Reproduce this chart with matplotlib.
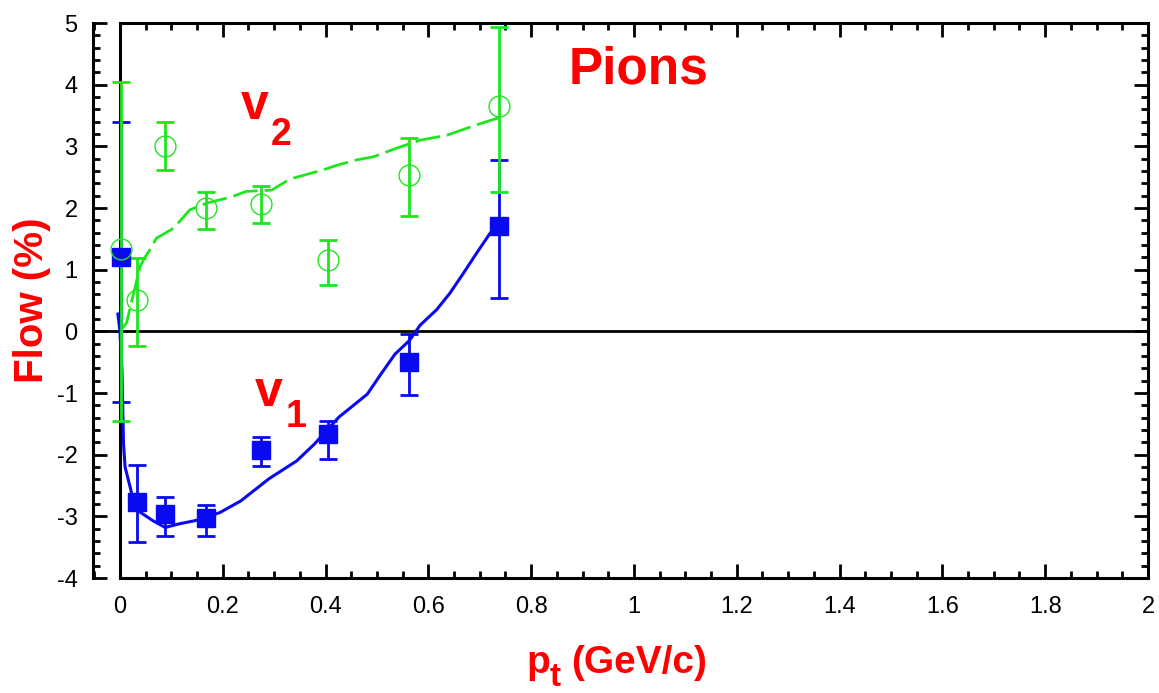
import matplotlib
matplotlib.use("Agg")
import matplotlib.pyplot as plt
from matplotlib.ticker import MultipleLocator

plt.rcParams['font.family'] = ['Liberation Sans', 'DejaVu Sans']
plt.rcParams['axes.unicode_minus'] = False

# measured points (pt in GeV/c, flow in %)
pt = [0.003, 0.033, 0.088, 0.167, 0.274, 0.405, 0.562, 0.738]

v2 = [1.33, 0.51, 3.01, 2.00, 2.06, 1.15, 2.53, 3.66]
v2_lo = [2.78, 0.75, 0.40, 0.34, 0.31, 0.40, 0.66, 1.40]
v2_hi = [2.71, 0.68, 0.38, 0.26, 0.29, 0.33, 0.60, 1.28]

v1 = [1.20, -2.76, -2.96, -3.03, -1.92, -1.66, -0.50, 1.71]
v1_lo = [2.34, 0.65, 0.36, 0.29, 0.27, 0.41, 0.53, 1.17]
v1_hi = [2.19, 0.60, 0.28, 0.22, 0.20, 0.20, 0.46, 1.07]

# model curves
v2_curve_x = [0.0, 0.013, 0.039, 0.047, 0.058, 0.071, 0.104, 0.136, 0.169, 0.217, 0.246,
              0.295, 0.331, 0.396, 0.421, 0.460, 0.493, 0.538, 0.584, 0.636, 0.694, 0.736]
v2_curve_y = [0.0, 0.14, 1.05, 1.18, 1.32, 1.51, 1.67, 1.97, 2.08, 2.18, 2.27,
              2.29, 2.47, 2.62, 2.69, 2.78, 2.83, 2.97, 3.10, 3.18, 3.35, 3.46]

v1_curve_x = [-0.004, 0.0, 0.004, 0.007, 0.010, 0.020, 0.030, 0.064, 0.088, 0.116, 0.146,
              0.194, 0.235, 0.290, 0.344, 0.378, 0.426, 0.481, 0.508, 0.535, 0.563, 0.584,
              0.616, 0.642, 0.668, 0.694, 0.720, 0.736]
v1_curve_y = [0.28, 0.0, -0.64, -1.83, -2.20, -2.53, -2.88, -3.07, -3.18, -3.12, -3.07,
              -2.94, -2.75, -2.39, -2.10, -1.83, -1.39, -1.02, -0.69, -0.37, -0.15, 0.10,
              0.35, 0.62, 0.94, 1.27, 1.59, 1.75]

xticks = [0, 0.2, 0.4, 0.6, 0.8, 1, 1.2, 1.4, 1.6, 1.8, 2]
xticklabels = ['0', '0.2', '0.4', '0.6', '0.8', '1', '1.2', '1.4', '1.6', '1.8', '2']

blue = '#0a0af0'
green = '#1ee61e'
red = '#ff0000'

fig = plt.figure(figsize=(11.59, 6.93), dpi=100)
ax = fig.add_axes([0.0802, 0.1659, 0.9103, 0.8009])

ax.set_xlim(-0.0525, 2.0)
ax.set_ylim(-4, 5)

ax.axhline(0, color='black', lw=2.0, zorder=1)
ax.axvline(0, color='black', lw=2.2, zorder=1)

ax.plot(v2_curve_x, v2_curve_y, color=green, lw=2.0, dashes=(9, 2.5), zorder=2)
ax.plot(v1_curve_x, v1_curve_y, color=blue, lw=2.2, zorder=2)

ax.errorbar(pt, v1, yerr=[v1_lo, v1_hi], fmt='none', ecolor=blue, elinewidth=2.0,
            capsize=6.5, capthick=2.0, zorder=3)
ax.errorbar(pt, v2, yerr=[v2_lo, v2_hi], fmt='none', ecolor=green, elinewidth=2.0,
            capsize=6.5, capthick=2.0, zorder=3)
ax.plot(pt, v1, 's', color=blue, ms=13, mec=blue, zorder=4)
ax.plot(pt, v2, 'o', mfc='none', mec=green, ms=15, mew=1.0, zorder=5)

# labels inside the plot
ax.text(0.872, 4.02, 'Pions', color=red, fontsize=37, fontweight='bold', ha='left', va='baseline')
ax.text(0.236, 3.44, 'v', color=red, fontsize=36, fontweight='bold', ha='left', va='baseline')
ax.text(0.293, 3.02, '2', color=red, fontsize=27, fontweight='bold', ha='left', va='baseline')
ax.text(0.263, -1.21, 'v', color=red, fontsize=36, fontweight='bold', ha='left', va='baseline')
ax.text(0.322, -1.55, '1', color=red, fontsize=27, fontweight='bold', ha='left', va='baseline')

# x axis title: p with a large subscript t
fig.text(526 / 1159, 1 - 673 / 693, 'p', color=red, fontsize=28, fontweight='bold', va='baseline')
fig.text(550 / 1159, 1 - 686 / 693, 't', color=red, fontsize=24, fontweight='bold', va='baseline')
fig.text(571 / 1159, 1 - 673 / 693, '(GeV/c)', color=red, fontsize=28, fontweight='bold', va='baseline')
ax.set_ylabel('Flow (%)', color=red, fontsize=29, fontweight='bold', labelpad=4)

for side in ['left', 'right', 'top', 'bottom']:
    ax.spines[side].set_linewidth(2.2)
ax.spines['bottom'].set_bounds(0, 2)
ax.spines['top'].set_bounds(0, 2)

ax.xaxis.set_minor_locator(MultipleLocator(0.05))
ax.yaxis.set_major_locator(MultipleLocator(1))
ax.yaxis.set_minor_locator(MultipleLocator(0.2))
ax.set_xticks(xticks)
ax.set_xticklabels(xticklabels)

ax.tick_params(which='both', direction='in', top=True, right=True, width=2.0, labelsize=17)
ax.tick_params(which='major', length=10)
ax.tick_params(which='minor', length=5)
ax.tick_params(axis='x', pad=13)
ax.tick_params(axis='y', pad=11)

fig.savefig('out.png', dpi=100)
